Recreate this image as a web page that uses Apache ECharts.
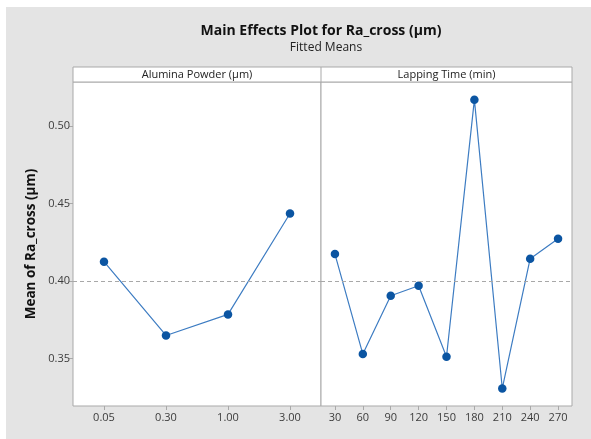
<!DOCTYPE html>
<html>
<head>
<meta charset="utf-8">
<script src="https://cdn.jsdelivr.net/npm/echarts@6/dist/echarts.min.js"></script>
<style>
html,body{margin:0;padding:0;background:#fff;}
#c{width:591px;height:439px;}
</style>
</head>
<body>
<div id="c"></div>
<script>
// ---- data ----
const powderCategories = ['0.05', '0.30', '1.00', '3.00'];
const powderMeans = [0.4125, 0.3649, 0.3785, 0.4436];
const timeCategories = ['30', '60', '90', '120', '150', '180', '210', '240', '270'];
const timeMeans = [0.4174, 0.3529, 0.3905, 0.3970, 0.3512, 0.5170, 0.3307, 0.4144, 0.4273];
const grandMean = 0.3998;
const yTicks = [0.35, 0.40, 0.45, 0.50];
const yMin = 0.3194, yMax = 0.5284;
const titleText = 'Main Effects Plot for Ra_cross (µm)';
const subtitleText = 'Fitted Means';
const panelTitles = ['Alumina Powder (µm)', 'Lapping Time (min)'];
const yName = 'Mean of Ra_cross (µm)';

// ---- layout ----
const FONT = '"Open Sans", "Noto Sans", sans-serif';
const P = {left: 73, mid: 321, right: 572, stripTop: 67, top: 82, bottom: 406};
const LINE = '#3d7cc2', MARK = '#0b55a2', BORDER = '#a9a9a9', TXT = '#3c3c3c';

const chart = echarts.init(document.getElementById('c'), null, {renderer: 'canvas'});

function xAxis(idx, cats) {
  return {
    type: 'category', gridIndex: idx, data: cats, boundaryGap: true,
    axisLine: {show: false},
    axisTick: {show: true, alignWithLabel: true, length: 4, lineStyle: {color: BORDER}},
    axisLabel: {color: TXT, fontSize: 11, fontFamily: FONT, margin: 6},
    splitLine: {show: false}
  };
}
function yAxis(idx, show) {
  return {
    type: 'value', gridIndex: idx, min: yMin, max: yMax,
    show: show,
    name: show ? yName : '',
    nameLocation: 'middle', nameGap: 35,
    nameTextStyle: {fontSize: 13.5, fontWeight: 'bold', color: '#111', fontFamily: FONT},
    axisLine: {show: false},
    axisTick: {show: true, length: 4, lineStyle: {color: BORDER}, customValues: yTicks},
    axisLabel: {color: TXT, fontSize: 11, fontFamily: FONT, margin: 3,
      customValues: yTicks, formatter: v => v.toFixed(2)},
    splitLine: {show: false}
  };
}
function series(idx, data) {
  return {
    type: 'line', xAxisIndex: idx, yAxisIndex: idx, data: data,
    symbol: 'circle', symbolSize: 8.5,
    lineStyle: {color: LINE, width: 1.2},
    itemStyle: {color: MARK},
    silent: true, animation: false,
    markLine: {
      silent: true, symbol: 'none', animation: false,
      label: {show: false},
      lineStyle: {color: '#a8a8a8', type: [4, 3], width: 1},
      data: [{yAxis: grandMean}]
    }
  };
}

const option = {
  backgroundColor: '#ffffff',
  animation: false,
  grid: [
    {left: P.left, top: P.top, width: P.mid - P.left, height: P.bottom - P.top,
      show: true, backgroundColor: '#fff', borderColor: BORDER, borderWidth: 1},
    {left: P.mid, top: P.top, width: P.right - P.mid, height: P.bottom - P.top,
      show: true, backgroundColor: '#fff', borderColor: BORDER, borderWidth: 1}
  ],
  xAxis: [xAxis(0, powderCategories), xAxis(1, timeCategories)],
  yAxis: [yAxis(0, true), yAxis(1, false)],
  series: [series(0, powderMeans), series(1, timeMeans)],
  graphic: [
    {type: 'rect', z: -10, silent: true, shape: {x: 6, y: 7, width: 591, height: 439},
      style: {fill: '#e4e4e4'}},
    {type: 'rect', silent: true,
      shape: {x: P.left, y: P.stripTop, width: P.right - P.left, height: P.top - P.stripTop},
      style: {fill: '#fff', stroke: BORDER, lineWidth: 1}},
    {type: 'line', silent: true,
      shape: {x1: P.mid, y1: P.stripTop, x2: P.mid, y2: P.top},
      style: {stroke: BORDER, lineWidth: 1}},
    {type: 'text', silent: true, x: (P.left + P.mid) / 2, y: (P.stripTop + P.top) / 2,
      style: {text: panelTitles[0], fill: '#222', font: '11px ' + FONT, align: 'center', verticalAlign: 'middle'}},
    {type: 'text', silent: true, x: (P.mid + P.right) / 2, y: (P.stripTop + P.top) / 2,
      style: {text: panelTitles[1], fill: '#222', font: '11px ' + FONT, align: 'center', verticalAlign: 'middle'}},
    {type: 'text', silent: true, x: 321, y: 31,
      style: {text: titleText, fill: '#111', font: 'bold 14px ' + FONT, align: 'center', verticalAlign: 'middle'}},
    {type: 'text', silent: true, x: 326, y: 48,
      style: {text: subtitleText, fill: '#222', font: '12px ' + FONT, align: 'center', verticalAlign: 'middle'}}
  ]
};
chart.setOption(option);
</script>
</body>
</html>
